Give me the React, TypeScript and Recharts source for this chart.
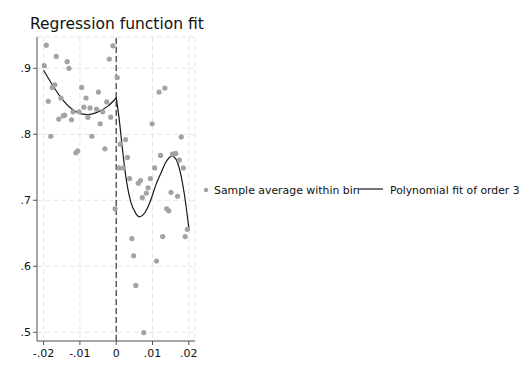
import React from 'react';
import {
  ComposedChart,
  Scatter,
  Line,
  XAxis,
  YAxis,
  CartesianGrid,
  ReferenceLine
} from 'recharts';

// bin averages (left / right of the cutoff)
const leftBinX = [-0.0198, -0.01925, -0.0187, -0.018, -0.0176, -0.0169, -0.0165, -0.0158, -0.0152, -0.0146, -0.0142, -0.0135, -0.013, -0.0123, -0.0119, -0.0111, -0.0106, -0.0102, -0.0095, -0.0089, -0.0083, -0.0078, -0.0072, -0.0067, -0.0054, -0.0049, -0.0044, -0.0037, -0.0031, -0.0026, -0.0019, -0.0015, -0.0009, -0.0003];
const leftBinY = [0.904, 0.935, 0.850, 0.797, 0.871, 0.875, 0.918, 0.823, 0.855, 0.828, 0.829, 0.910, 0.900, 0.822, 0.834, 0.772, 0.775, 0.834, 0.871, 0.841, 0.855, 0.826, 0.840, 0.797, 0.838, 0.864, 0.816, 0.834, 0.778, 0.849, 0.914, 0.826, 0.934, 0.687];

const rightBinX = [0.0003, 0.0008, 0.0011, 0.002, 0.0026, 0.0031, 0.0037, 0.0043, 0.0048, 0.0054, 0.0061, 0.0067, 0.0072, 0.0076, 0.0083, 0.0088, 0.0094, 0.0099, 0.0106, 0.0111, 0.0118, 0.0122, 0.0128, 0.0134, 0.0139, 0.0145, 0.0151, 0.0155, 0.0164, 0.0169, 0.0174, 0.0179, 0.0185, 0.019, 0.0196];
const rightBinY = [0.886, 0.749, 0.785, 0.749, 0.792, 0.765, 0.733, 0.642, 0.616, 0.571, 0.726, 0.730, 0.704, 0.4995, 0.711, 0.719, 0.733, 0.816, 0.749, 0.608, 0.864, 0.768, 0.645, 0.870, 0.687, 0.684, 0.712, 0.770, 0.771, 0.706, 0.761, 0.796, 0.749, 0.645, 0.656];

// polynomial fit, read at a few x positions
const fitLeftX = [-0.02, -0.0178, -0.015, -0.0124, -0.0096, -0.0078, -0.005, -0.0022, 0];
const fitLeftY = [0.897, 0.877, 0.854, 0.839, 0.831, 0.830, 0.834, 0.843, 0.855];
const fitRightX = [0, 0.0008, 0.0017, 0.0026, 0.004, 0.0052, 0.0063, 0.0081, 0.0095, 0.0109, 0.0123, 0.0137, 0.0154, 0.0165, 0.0174, 0.0188, 0.02];
const fitRightY = [0.856, 0.824, 0.779, 0.738, 0.698, 0.682, 0.675, 0.683, 0.700, 0.723, 0.741, 0.758, 0.767, 0.762, 0.748, 0.708, 0.658];

const xTicks = [-0.02, -0.01, 0, 0.01, 0.02];
const yTicks = [0.5, 0.6, 0.7, 0.8, 0.9];

const zip = (xs: number[], ys: number[]) => xs.map((x, i) => ({ x, y: ys[i] }));
const bins = [...zip(leftBinX, leftBinY), ...zip(rightBinX, rightBinY)];
const fitLeft = zip(fitLeftX, fitLeftY);
const fitRight = zip(fitRightX, fitRightY);

const font = "'DejaVu Sans', sans-serif";
const dotColor = '#a3a3a3';

const fmtX = (v: number) => (v === 0 ? '0' : (v < 0 ? '-' : '') + Math.abs(v).toFixed(2).replace(/^0/, ''));
const fmtY = (v: number) => v.toFixed(1).replace(/^0/, '');

const Dot = (props: any) => <circle cx={props.cx} cy={props.cy} r={2.6} fill={dotColor} />;

export default function App() {
  return (
    <div style={{ position: 'relative', width: 528, height: 384, fontFamily: font }}>
      <div style={{ position: 'absolute', left: 22, top: 7, fontSize: 15.5, lineHeight: 'normal', color: '#111' }}>
        Regression function fit
      </div>
      <ComposedChart
        width={528}
        height={384}
        margin={{ top: 29, right: 341, bottom: 21, left: 0 }}
        style={{ fontFamily: font }}
      >
        <CartesianGrid stroke="#e6e6e6" strokeDasharray="5 3" />
        <XAxis
          type="number"
          dataKey="x"
          domain={[-0.0218, 0.0217]}
          ticks={xTicks}
          tickFormatter={fmtX}
          height={30}
          tickSize={4}
          tickMargin={4}
          stroke="#555"
          tick={{ fill: '#111', fontSize: 11 }}
          allowDataOverflow
        />
        <YAxis
          type="number"
          dataKey="y"
          domain={[0.4868, 0.9474]}
          ticks={yTicks}
          tickFormatter={fmtY}
          width={29}
          tickSize={4}
          tickMargin={2}
          stroke="#555"
          tick={{ fill: '#111', fontSize: 11 }}
          allowDataOverflow
        />
        <ReferenceLine x={0} stroke="#111" strokeDasharray="6 3" />
        <Scatter data={bins} dataKey="y" shape={Dot} isAnimationActive={false} />
        <Line data={fitLeft} dataKey="y" type="monotone" stroke="#1a1a1a" strokeWidth={1.2} dot={false} isAnimationActive={false} />
        <Line data={fitRight} dataKey="y" type="monotone" stroke="#1a1a1a" strokeWidth={1.2} dot={false} isAnimationActive={false} />
      </ComposedChart>
      <svg style={{ position: 'absolute', left: 0, top: 0 }} width={528} height={384}>
        <circle cx={198} cy={182} r={2.2} fill={dotColor} />
        <text x={206} y={186} fontSize={10.9} fill="#111" fontFamily={font}>Sample average within bin</text>
        <line x1={350} x2={375} y1={181} y2={181} stroke="#1a1a1a" strokeWidth={1.2} />
        <text x={382} y={186} fontSize={10.8} fill="#111" fontFamily={font}>Polynomial fit of order 3</text>
      </svg>
    </div>
  );
}
